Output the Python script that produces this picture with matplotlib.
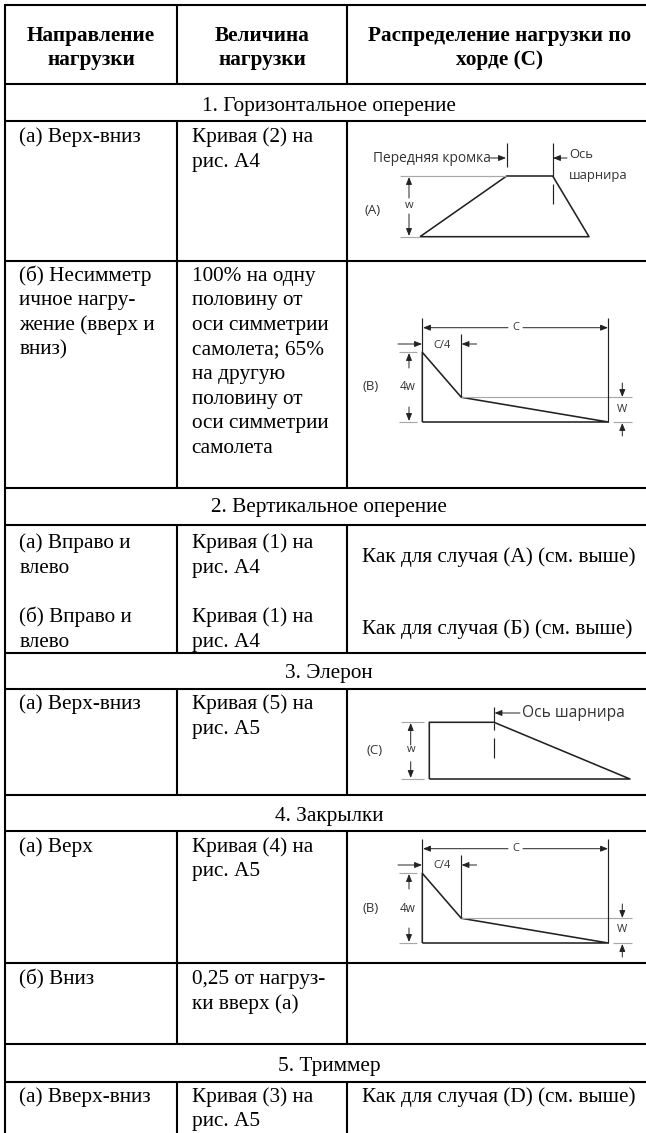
import matplotlib
matplotlib.use("Agg")
import matplotlib.pyplot as plt

SERIF = "Liberation Serif"
SANS = "Open Sans"
FS = 15.3

# table structure
col_x = [5, 177, 347, 646]
row_y = [4.5, 84, 120.5, 261, 488, 525, 653, 688.5, 794.5, 831, 963, 1044, 1082, 1133]
span_rows = [1, 4, 6, 8, 11]   # indexes of rows that span all columns

headers = [("Направление\nнагрузки", 91), ("Величина\nнагрузки", 262), ("Распределение нагрузки по\nхорде (С)", 499.5)]
header_baselines = [40.7, 65]

sections = [("1. Горизонтальное оперение", 110.7),
            ("2. Вертикальное оперение", 511.7),
            ("3. Элерон", 678),
            ("4. Закрылки", 820.7),
            ("5. Триммер", 1070.7)]
section_center = 329

col1_text = [("(а) Верх-вниз", 142.3),
             ("(б) Несимметр\nичное нагру-\nжение (вверх и\nвниз)", 280.7),
             ("(а) Вправо и\nвлево", 548),
             ("(б) Вправо и\nвлево", 622),
             ("(а) Верх-вниз", 709),
             ("(а) Верх", 851.7),
             ("(б) Вниз", 984),
             ("(а) Вверх-вниз", 1101.7)]
col2_text = [("Кривая (2) на\nрис. А4", 142.3),
             ("100% на одну\nполовину от\nоси симметрии\nсамолета; 65%\nна другую\nполовину от\nоси симметрии\nсамолета", 280.7),
             ("Кривая (1) на\nрис. А4", 548),
             ("Кривая (1) на\nрис. А4", 622),
             ("Кривая (5) на\nрис. А5", 709),
             ("Кривая (4) на\nрис. А5", 851.7),
             ("0,25 от нагруз-\nки вверх (а)", 984),
             ("Кривая (3) на\nрис. А5", 1101.7)]
col3_text = [("Как для случая (А) (см. выше)", 561.7),
             ("Как для случая (Б) (см. выше)", 634),
             ("Как для случая (D) (см. выше)", 1101.7)]
LINE = 24.6
X1, X2, X3 = 19.4, 191.6, 362.2

# load distribution shapes
shape_a_x = [420, 506.7, 552.7, 589, 420]
shape_a_y = [236.7, 176, 176, 236.7, 236.7]
shape_b_x = [422.3, 422.3, 461.3, 608.3, 422.3]
shape_b_y = [422, 352.3, 397.3, 422, 422]
shape_c_x = [429.3, 429.3, 494, 630, 429.3]
shape_c_y = [779, 722.3, 722.3, 779, 779]
b_offsets = [0, 521]

fig = plt.figure(figsize=(6.46, 11.33), dpi=100, facecolor="white")
ax = fig.add_axes([0, 0, 1, 1])
ax.set_xlim(0, 646)
ax.set_ylim(1133, 0)
ax.axis("off")

INK = "#222222"
GREY = "#a8a8a8"


def line(xs, ys, color=INK, lw=0.85, **kw):
    ax.plot(xs, ys, color=color, lw=lw, solid_capstyle="butt", **kw)


def arrow(x0, y0, x1, y1):
    ax.annotate("", xy=(x1, y1), xytext=(x0, y0),
                arrowprops=dict(arrowstyle="-|>,head_length=0.55,head_width=0.22",
                                mutation_scale=8, color=INK, lw=0.7,
                                shrinkA=0, shrinkB=0))


def label(x, y, s, size=8, ha="center", color="#333333"):
    ax.text(x, y, s, fontsize=size, family=SANS, ha=ha, va="center", color=color)


def multiline(x, y0, s, ha="left", weight="normal", step=LINE):
    for i, part in enumerate(s.split("\n")):
        ax.text(x, y0 + i * step, part, family=SERIF, fontsize=FS, ha=ha,
                va="baseline", weight=weight, color="black")


# grid
for y in row_y[:-1]:
    line([col_x[0] - 1, col_x[-1]], [y, y], color="black", lw=1.5)
for x in col_x[:-1]:
    for i in range(len(row_y) - 1):
        if x != col_x[0] and i in span_rows:
            continue
        line([x, x], [row_y[i], row_y[i + 1]], color="black", lw=1.5)

# text
for s, cx in headers:
    for i, part in enumerate(s.split("\n")):
        ax.text(cx, header_baselines[i], part, family=SERIF, fontsize=FS, weight="bold",
                ha="center", va="baseline", color="black")
for s, y in sections:
    ax.text(section_center, y, s, family=SERIF, fontsize=FS, ha="center", va="baseline", color="black")
for s, y in col1_text:
    multiline(X1, y, s)
for s, y in col2_text:
    multiline(X2, y, s)
for s, y in col3_text:
    multiline(X3, y, s)

# diagram A
line(shape_a_x, shape_a_y, lw=1.15)
line([400, 506], [176, 176], GREY)
line([400, 420], [236.7, 236.7], GREY)
line([506.7, 506.7], [143, 167])
line([552.7, 552.7], [143, 177])
line([552.7, 552.7], [184, 204])
arrow(409, 198, 409, 177)
arrow(409, 214, 409, 236)
arrow(490.5, 158, 506, 158)
arrow(567, 158, 553, 158)
label(432, 158, "Передняя кромка", size=9.9)
label(569, 155, "Ось", size=9.4, ha="left")
label(569, 175.7, "шарнира", size=9.4, ha="left")
label(373, 210, "(A)", size=9.5)
label(409, 205, "w", size=8)

# diagram B, twice
for d in b_offsets:
    line(shape_b_x, [v + d for v in shape_b_y], lw=1.15)
    line([461.3, 631.7], [397.3 + d] * 2, GREY)
    line([613, 632], [422 + d] * 2, GREY)
    line([399, 417], [352.3 + d] * 2, GREY)
    line([399, 417], [422 + d] * 2, GREY)
    line([422.3, 422.3], [318 + d, 352 + d])
    line([608.3, 608.3], [318 + d, 422 + d])
    line([461.3, 461.3], [334 + d, 397 + d])
    arrow(508, 327.7 + d, 423, 327.7 + d)
    arrow(523, 327.7 + d, 608, 327.7 + d)
    arrow(398, 344 + d, 422, 344 + d)
    arrow(476.7, 344 + d, 461.5, 344 + d)
    arrow(409, 368 + d, 409, 353 + d)
    arrow(409, 407 + d, 409, 421 + d)
    arrow(622.3, 383 + d, 622.3, 397 + d)
    arrow(622.3, 436 + d, 622.3, 423 + d)
    label(515.7, 327.7 + d, "C", size=8)
    label(441.7, 345 + d, "C/4", size=8)
    label(408, 387 + d, "4w", size=8.5)
    label(371, 387 + d, "(B)", size=9.5)
    label(622, 409 + d, "W", size=8)

# diagram C
line(shape_c_x, shape_c_y, lw=1.15)
line([400.7, 424], [722.3, 722.3], GREY)
line([400.7, 424], [779, 779], GREY)
line([494, 494], [707, 722])
line([494, 494], [723, 730])
line([494, 494], [738, 757.7])
arrow(410.7, 745, 410.7, 723)
arrow(410.7, 761.7, 410.7, 778)
arrow(520, 713, 494.5, 713)
label(521.7, 713, "Ось шарнира", size=11.2, ha="left")
label(375, 750, "(C)", size=9.5)
label(410.7, 750, "w", size=8)

fig.savefig("out.png", dpi=100, facecolor="white")
